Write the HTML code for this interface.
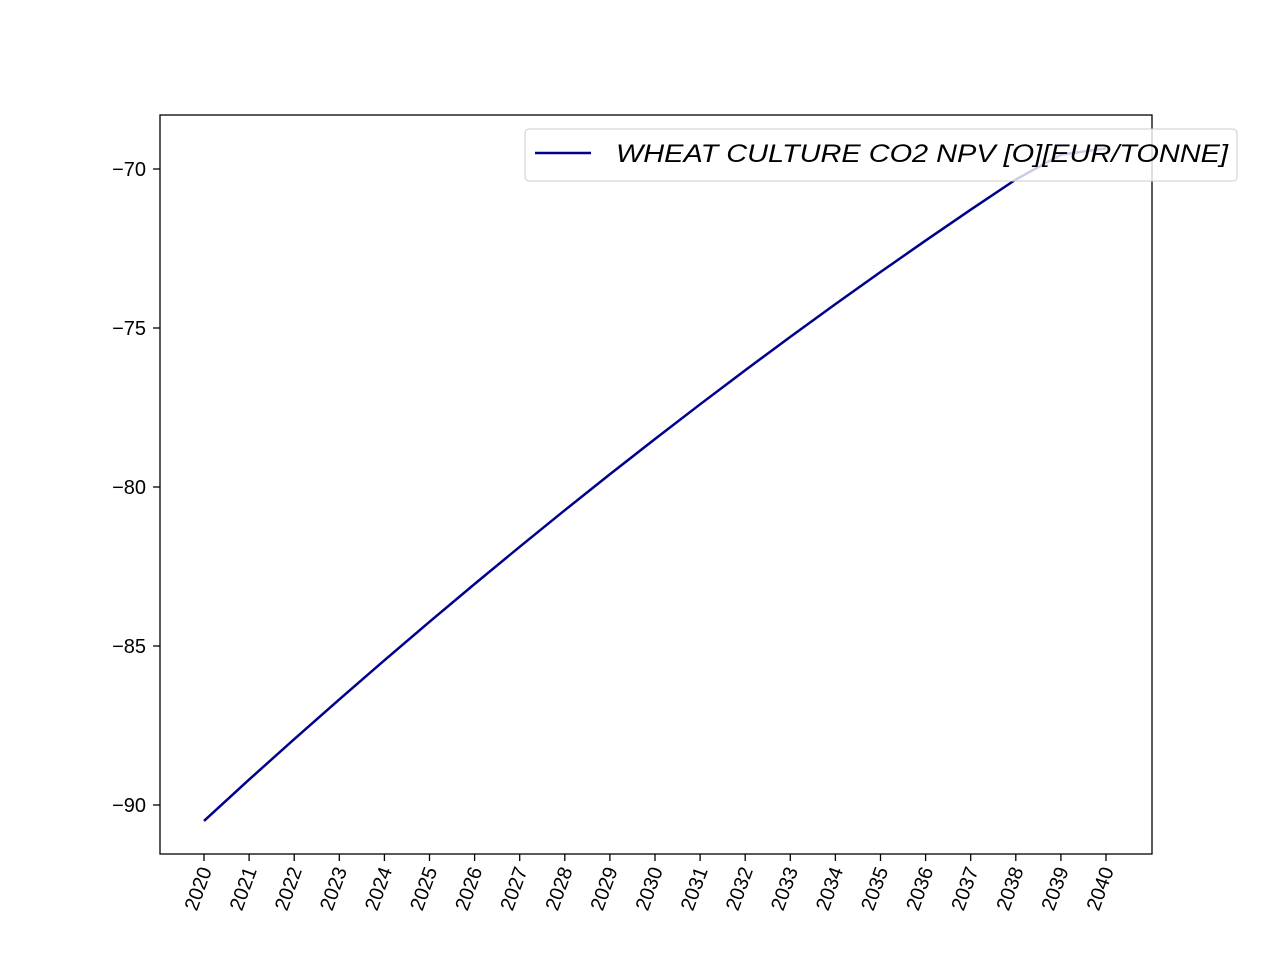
<!DOCTYPE html>
<html><head><meta charset="utf-8"><style>body{margin:0;background:#fff}svg{font-family:"Liberation Sans",sans-serif}</style></head>
<body>
<svg id="chart" width="1280" height="960" xmlns="http://www.w3.org/2000/svg">
<rect x="0" y="0" width="1280" height="960" fill="#fff"/>
<g id="ticks"></g>
<path id="series" fill="none" stroke="#00008b" stroke-width="2.5" stroke-linejoin="round"/>
<rect x="160" y="115" width="992" height="739" fill="none" stroke="#000" stroke-width="1.3"/>
<g>
<rect x="525" y="129" width="712" height="52" rx="4" fill="#fff" fill-opacity="0.8" stroke="#ccc"/>
<line x1="535" y1="153" x2="591" y2="153" stroke="#00008b" stroke-width="2.5"/>
<text x="616" y="162" font-size="25" font-style="italic" textLength="612" lengthAdjust="spacingAndGlyphs">WHEAT CULTURE CO2 NPV [O][EUR/TONNE]</text>
</g>
</svg>
<script>
const years=[2020,2021,2022,2023,2024,2025,2026,2027,2028,2029,2030,2031,2032,2033,2034,2035,2036,2037,2038,2039,2040];
const values=[-90.5,-89.2,-87.93,-86.68,-85.45,-84.24,-83.05,-81.88,-80.73,-79.6,-78.49,-77.4,-76.33,-75.28,-74.25,-73.24,-72.25,-71.28,-70.33,-69.55,-69.35];
const yTicks=[-90,-85,-80,-75,-70];
const NS="http://www.w3.org/2000/svg";
const x=v=>204+(v-2020)*(1106-204)/20;
const y=v=>805-(v+90)*(805-169)/20;
const g=document.getElementById('ticks');
function mk(t,a){const e=document.createElementNS(NS,t);for(const k in a)e.setAttribute(k,a[k]);g.appendChild(e);return e;}
years.forEach(yr=>{
 const l=mk('line',{x1:x(yr),x2:x(yr),y1:854,y2:861,stroke:'#000','stroke-width':1.3});
 
 
 const t=mk('text',{x:x(yr)+8,y:870,'font-size':20,'text-anchor':'end',transform:`rotate(-70 ${x(yr)+8} 870)`});
 t.textContent=yr;
 
 
});
yTicks.forEach(v=>{
 const l=mk('line',{x1:153,x2:160,y1:y(v),y2:y(v),stroke:'#000','stroke-width':1.3});
 
 
 const t=mk('text',{x:146,y:y(v)+7,'font-size':20,'text-anchor':'end'});
 t.textContent='\u2212'+Math.abs(v);
 
 
});
document.getElementById('series').setAttribute('d',years.map((yr,i)=>(i?'L':'M')+x(yr)+','+y(values[i])).join(''));
</script>
</body></html>
